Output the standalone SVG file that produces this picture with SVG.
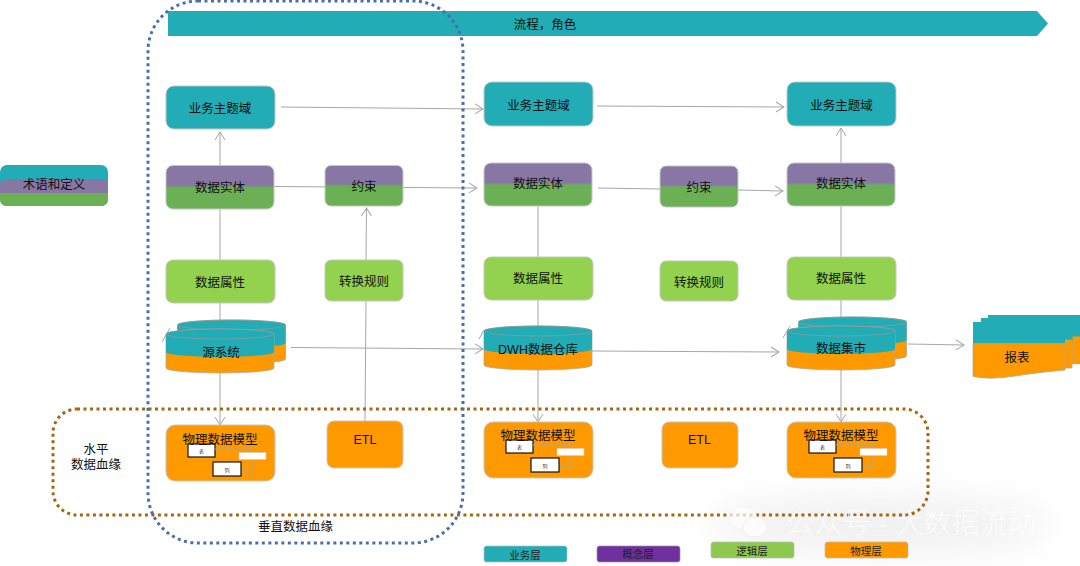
<svg xmlns="http://www.w3.org/2000/svg" xmlns:xlink="http://www.w3.org/1999/xlink" width="1080" height="566" viewBox="0 0 1080 566">
<style>
text{font-family:"Liberation Sans","Noto Sans CJK SC",sans-serif;font-size:12.5px;fill:#111;text-anchor:middle;dominant-baseline:central;transform:translate(0px,3px)}
.n{stroke:#c4c8c4;stroke-width:1}
.t{fill:#22acb5}.e{fill:url(#pg)}.a{fill:#92d24e}.o{fill:#ff9900}
.c{fill:none;stroke:#a6a6a6;stroke-width:1}
.ar{marker-end:url(#ah)}
.cy{stroke:#a8a8a0;stroke-width:.8}
.tb{fill:#fff;stroke:#111;stroke-width:1.2}
.sm{font-size:5px;fill:#333}
.lg{font-size:10.5px;fill:#222}
.ln{fill:none;stroke:#a6a6a6;stroke-width:1}
</style>
<defs>
<marker id="ah" markerWidth="12" markerHeight="12" refX="9" refY="5.500" orient="auto" markerUnits="userSpaceOnUse"><path d="M1,0.500 L9,5.500 L1,10.500" fill="none" stroke="#a6a6a6" stroke-width="1"/></marker>
<linearGradient id="pg" x1="0" y1="0" x2="0" y2="1"><stop offset="0" stop-color="#8876a5"/><stop offset=".45" stop-color="#8876a5"/><stop offset=".52" stop-color="#6cb056"/><stop offset="1" stop-color="#6cb056"/></linearGradient>
<filter id="bl" x="-30%" y="-60%" width="160%" height="220%"><feGaussianBlur stdDeviation="18"/></filter>
<g id="model">
<rect class="tb" x="22" y="19" width="27" height="13"/>
<rect x="73" y="27.500" width="27" height="7" fill="#fff" stroke="#ccc" stroke-width=".5"/>
<path class="ln" d="M49,24H86V27M86,35V46H75"/>
<rect class="tb" x="47" y="37" width="28" height="14"/>
<text class="sm" x="35.500" y="23">表</text>
<text class="sm" x="61" y="42">列</text>
</g>
<g id="cyl">
<path class="o cy" d="M0,5A54,5 0 0 1 108,5V39A54,5 0 0 1 0,39Z"/>
<path class="t" d="M0,5A54,5 0 0 1 108,5V23A54,5 0 0 1 0,23Z"/>
<path d="M0,5A54,5 0 0 1 108,5A54,5 0 0 1 0,5Z" fill="none" stroke="#8a9a9c" stroke-width=".8"/>
</g>
</defs>

<g id="watermark">
<ellipse cx="880" cy="525" rx="170" ry="26" fill="#dcdcdc" opacity=".45" filter="url(#bl)"/>
</g>

<g id="banner"><polygon class="t" points="168,11 1037,11 1048,23.500 1037,36 168,36"/><text x="545" y="22">流程，角色</text></g>

<g id="connectors">
<path class="c ar" d="M281,107L483,109"/>
<path class="c ar" d="M220,165V132"/>
<path class="c" d="M220,260V209M220,303V322"/>
<path class="c ar" d="M220,372V425"/>
<path class="c ar" d="M274,186.500L477,188"/>
<path class="c ar" d="M366,260L366.500,208"/>
<path class="c" d="M365,421L366,301"/>
<path class="c ar" d="M291,347.500L483,349"/>
<path class="c ar" d="M597,106L784,107"/>
<path class="c" d="M538,206V257M538,300V326"/>
<path class="c ar" d="M538,370V422"/>
<path class="c" d="M598,188L660,189"/>
<path class="c ar" d="M738,190L783,191"/>
<path class="c ar" d="M841,163V128"/>
<path class="c" d="M841,206V257M841,300V318"/>
<path class="c ar" d="M841,370V422"/>
<path class="c ar" d="M592,351L779,352"/>
<path class="c ar" d="M908,344L964,345"/>
<path class="c" d="M162,342L170,328M479,339L484,330M783,338L790,326"/>
</g>

<g id="glossary"><rect class="t" x="0" y="165" width="108" height="41" rx="7"/><path d="M0,206V186Q0,179 7,179H101Q108,179 108,186V193H0Z" fill="#8876a5"/><path d="M0,193H108V199Q108,206 101,206H7Q0,206 0,199Z" fill="#6cb056"/><text x="54" y="182">术语和定义</text></g>

<g id="c1-domain"><rect class="t n" x="166" y="86" width="109" height="43" rx="8"/><text x="220" y="106">业务主题域</text></g>
<g id="c1-entity"><rect class="e n" x="166" y="165.500" width="108" height="43.500" rx="7"/><text x="220" y="185">数据实体</text></g>
<g id="c1-constraint"><rect class="e n" x="325" y="165.500" width="78" height="40.500" rx="6"/><text x="364" y="184">约束</text></g>
<g id="c1-attr"><rect class="a n" x="166" y="260" width="109" height="43" rx="7"/><text x="220" y="280">数据属性</text></g>
<g id="c1-rule"><rect class="a n" x="325" y="260" width="78" height="41" rx="6"/><text x="364" y="279">转换规则</text></g>
<g id="c1-source"><use xlink:href="#cyl" x="177.500" y="320"/><use xlink:href="#cyl" x="166" y="329"/><text x="221" y="350">源系统</text></g>
<g id="c1-model"><rect class="o n" x="166" y="425" width="109" height="56" rx="9"/><use xlink:href="#model" x="166" y="425"/><text x="220" y="437">物理数据模型</text></g>
<g id="c1-etl"><rect class="o n" x="327" y="421" width="76" height="47" rx="7"/><text x="365" y="437">ETL</text></g>

<g id="c2-domain"><rect class="t n" x="484" y="82" width="109" height="44" rx="8"/><text x="538.500" y="103">业务主题域</text></g>
<g id="c2-entity"><rect class="e n" x="484" y="163" width="108" height="43" rx="7"/><text x="538" y="181">数据实体</text></g>
<g id="c2-constraint"><rect class="e n" x="660" y="166" width="78" height="41" rx="6"/><text x="699" y="185">约束</text></g>
<g id="c2-attr"><rect class="a n" x="484" y="257" width="109" height="43" rx="7"/><text x="538" y="276">数据属性</text></g>
<g id="c2-rule"><rect class="a n" x="660" y="261" width="78" height="40" rx="6"/><text x="699" y="280">转换规则</text></g>
<g id="c2-dwh"><use xlink:href="#cyl" x="484" y="326"/><text x="538" y="347">DWH数据仓库</text></g>
<g id="c2-model"><rect class="o n" x="484" y="422" width="109" height="56" rx="9"/><use xlink:href="#model" x="484" y="421"/><text x="538" y="433">物理数据模型</text></g>
<g id="c2-etl"><rect class="o n" x="662" y="422" width="76" height="46" rx="7"/><text x="699.500" y="437">ETL</text></g>

<g id="c3-domain"><rect class="t n" x="787" y="82" width="109" height="44" rx="8"/><text x="841.500" y="103">业务主题域</text></g>
<g id="c3-entity"><rect class="e n" x="787" y="163" width="108" height="43" rx="7"/><text x="841" y="181">数据实体</text></g>
<g id="c3-attr"><rect class="a n" x="787" y="257" width="109" height="43" rx="7"/><text x="841" y="276">数据属性</text></g>
<g id="c3-mart"><use xlink:href="#cyl" x="798.500" y="317"/><use xlink:href="#cyl" x="787" y="326"/><text x="841" y="346">数据集市</text></g>
<g id="c3-model"><rect class="o n" x="787" y="422" width="109" height="56" rx="9"/><use xlink:href="#model" x="787" y="421"/><text x="841" y="433">物理数据模型</text></g>

<g id="report">
<path class="t" d="M988,315H1080V337H988Z"/><path class="o" d="M988,336.500H1080V364H988Z"/>
<path class="t" d="M981,318H1072.500V341H981Z"/><path class="o cy" d="M981,340H1072V368H981Z"/>
<path class="t" d="M973,322H1065V344H973Z"/>
<path class="o cy" d="M973,343.500H1065V370Q1040,372 1015,376T973,376.500Z"/>
<text x="1017" y="355">报表</text>
</g>

<g id="lineage-h"><rect x="53" y="409" width="875" height="106" rx="24" fill="none" stroke="#a8650f" stroke-width="3" stroke-dasharray="3 3.500"/><text x="96" y="447">水平</text><text x="96" y="462">数据血缘</text></g>
<g id="lineage-v"><rect x="148" y="1" width="315" height="542" rx="50" fill="none" stroke="#4a6fa8" stroke-width="3" stroke-dasharray="3 3.500"/><text x="295.500" y="524">垂直数据血缘</text></g>

<g id="legend">
<rect class="t" x="484" y="546" width="83" height="16" rx="2.500" stroke="#bbb" stroke-width=".7"/><text class="lg" x="525" y="552">业务层</text>
<rect x="597" y="546" width="83" height="16" rx="2.500" fill="#7030a0" stroke="#999" stroke-width=".7"/><text class="lg" x="638" y="551">概念层</text>
<rect x="711" y="542" width="83" height="16" rx="2.500" fill="#8dc94e" stroke="#bbb" stroke-width=".7"/><text class="lg" x="752" y="548">逻辑层</text>
<rect class="o" x="825" y="542" width="83" height="16" rx="2.500" stroke="#bbb" stroke-width=".7"/><text class="lg" x="866" y="548">物理层</text>
</g>

<g id="watermark-text" opacity=".7">
<ellipse cx="743" cy="518" rx="14" ry="11.500" fill="#fff" stroke="#e6e6e6" stroke-width=".7"/>
<ellipse cx="755" cy="527" rx="12" ry="10" fill="#fff" stroke="#e6e6e6" stroke-width=".7"/>
<text x="911" y="520" style="font-size:28px;fill:#fff;font-weight:300">公众号 · 大数据流动</text>
</g>
</svg>
